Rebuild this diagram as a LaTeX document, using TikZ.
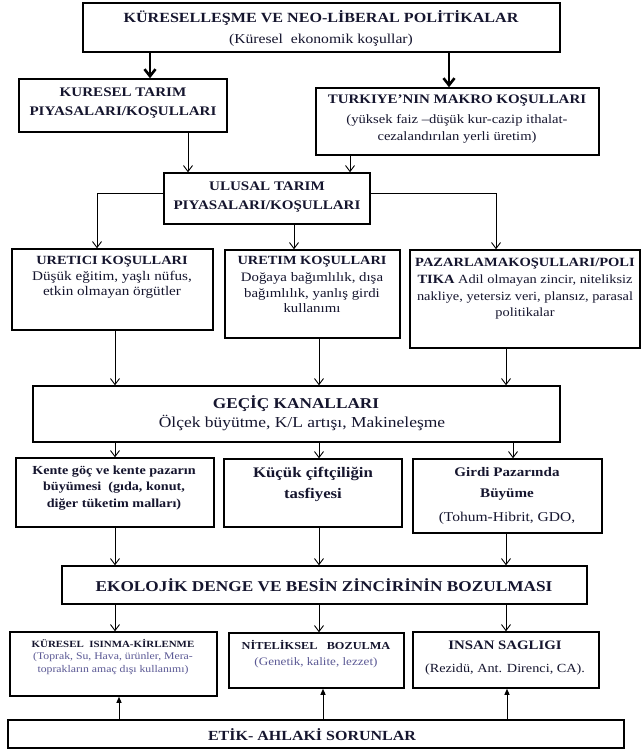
\documentclass[tikz,border=0pt]{standalone}
\usepackage{fontspec}
\setmainfont[FakeStretch=1.15]{Liberation Serif}
\usetikzlibrary{arrows.meta}
\definecolor{txt}{HTML}{15152E}
\definecolor{soft}{HTML}{5A5894}
\newcommand\mybox[5]{\node[box,minimum width={(#4)-(#2)},minimum height={(#5)-(#3)}] (#1) at ({((#2)+(#4))/2},{((#3)+(#5))/2}) {};}
\newcommand\fs[2]{\fontsize{#1}{#2}\selectfont}
\begin{document}
\begin{tikzpicture}[x=1pt,y=-1pt,
  box/.style={draw,line width=1.5pt,inner sep=0pt,fill=white},
  t/.style={align=center,inner sep=0pt,text=txt},
  arr/.style={-{Straight Barb[length=6pt,width=9pt]},line width=0.9pt},
  thk/.style={-{Straight Barb[length=7pt,width=11pt]},line width=2.6pt},
  uparr/.style={-{Triangle[length=6pt,width=5pt]},line width=1pt}]
\useasboundingbox (0,0) rectangle (644,750);
% boxes
\mybox{top}{83}{3}{560}{52}
\mybox{kur}{19}{79}{227}{132}
\mybox{tur}{316}{88}{599}{155}
\mybox{ulu}{164}{173}{370}{224}
\mybox{ureci}{12}{249}{213}{330}
\mybox{uretim}{225}{250}{400}{338}
\mybox{paz}{410}{250}{640}{348}
\mybox{gec}{33}{386}{560}{442}
\mybox{kente}{16}{458}{214}{527}
\mybox{kucuk}{224}{459}{402}{527}
\mybox{girdi}{413}{459}{602}{533}
\mybox{eko}{62}{566}{587}{604}
\mybox{kis}{10}{632}{217}{696}
\mybox{nit}{229}{633}{404}{688}
\mybox{ins}{413}{632}{599}{688}
\mybox{etik}{8}{720}{624}{748}
% texts
\node[t,font=\fs{14}{18}\bfseries] (topA) at (321,18) {KÜRESELLEŞME VE NEO-LİBERAL POLİTİKALAR};
\node[t,font=\fs{13.6}{17}] (topB) at (321,40) {(Küresel\ \ ekonomik koşullar)};
\node[t,font=\fs{13.1}{19}\bfseries] (kurT) at (123,103) {KURESEL TARIM\\PIYASALARI/KOŞULLARI};
\node[t,font=\fs{13}{18}\bfseries] (turT) at (457,101) {TURKIYE’NIN MAKRO KOŞULLARI};
\node[t,font=\fs{12.7}{17}\selectfont] (turB) at (457,129) {(yüksek faiz –düşük kur-cazip ithalat-\\cezalandırılan yerli üretim)};
\node[t,font=\fs{13.1}{19}\bfseries] (uluT) at (267,197) {ULUSAL TARIM\\PIYASALARI/KOŞULLARI};
\node[t,font=\fs{12.5}{18}\bfseries] (ureciT) at (112,262) {URETICI KOŞULLARI};
\node[t,font=\fs{13.2}{15}] (ureciB) at (112,285) {Düşük eğitim, yaşlı nüfus,\\etkin olmayan örgütler};
\node[t,font=\fs{12.5}{18}\bfseries] (uretimT) at (312,262) {URETIM KOŞULLARI};
\node[t,font=\fs{12.9}{15.5}] (uretimB) at (312,293) {Doğaya bağımlılık, dışa\\bağımlılık, yanlış girdi\\kullanımı};
\node[t,font=\fs{12.5}{16.7}] (pazB) at (525,289) {\fs{12.6}{16.7}\bfseries PAZARLAMAKOŞULLARI/POLI\\\fs{12.6}{16.7}\bfseries TIKA\fs{12.5}{16.7}\mdseries{} Adil olmayan zincir, niteliksiz\\nakliye, yetersiz veri, plansız, parasal\\politikalar};
\node[t,font=\fs{15}{20}\bfseries] (gecT) at (296,404) {GEÇİÇ KANALLARI};
\node[t,font=\fs{15.2}{20}] (gecB) at (302,423) {Ölçek büyütme, K/L artışı, Makineleşme};
\node[t,font=\fs{12.3}{16.5}\bfseries] (kenteT) at (114,488) {Kente göç ve kente pazarın\\büyümesi\ \ (gıda, konut,\\diğer tüketim malları)};
\node[t,font=\fs{14.6}{21}\bfseries] (kucukT) at (313,484) {Küçük çiftçiliğin\\tasfiyesi};
\node[t,font=\fs{13.1}{21}\bfseries] (girdiT) at (507,484) {Girdi Pazarında\\Büyüme};
\node[t,font=\fs{13.5}{16}] (girdiB) at (507,518) {(Tohum-Hibrit, GDO,};
\node[t,font=\fs{15}{20}\bfseries] (ekoT) at (324,585) {EKOLOJİK DENGE VE BESİN ZİNCİRİNİN BOZULMASI};
\node[t,font=\fs{9.5}{12}\bfseries] (kisT) at (113,643) {KÜRESEL\ \ ISINMA-KİRLENME};
\node[t,font=\fs{10.2}{13},text=soft] (kisB) at (113,664) {(Toprak, Su, Hava, ürünler, Mera-\\toprakların amaç dışı kullanımı)};
\node[t,font=\fs{10.7}{14}\bfseries] (nitT) at (316,645) {NİTELİKSEL\ \ \ BOZULMA};
\node[t,font=\fs{11.4}{13},text=soft] (nitB) at (316,663) {(Genetik, kalite, lezzet)};
\node[t,font=\fs{12.9}{16}\bfseries] (insT) at (505,645) {INSAN SAGLIGI};
\node[t,font=\fs{12.4}{16}] (insB) at (505,670) {(Rezidü, Ant. Direnci, CA).};
\node[t,font=\fs{13.9}{18}\bfseries] (etikT) at (312,735) {ETİK- AHLAKİ SORUNLAR};
% column coordinates
\coordinate (xa) at (150,0);
\coordinate (xb) at (449,0);
\coordinate (xc) at (188,0);
\coordinate (xd) at (350,0);
\coordinate (xe) at (97,0);
\coordinate (xf) at (496,0);
\coordinate (xg) at (294,0);
\coordinate (hy) at (0,193);
\coordinate (c1) at (115,0);
\coordinate (c2) at (319,0);
\coordinate (c3) at (506,0);
\coordinate (c4) at (513,0);
\coordinate (u1) at (119,0);
\coordinate (u2) at (323,0);
\coordinate (u3) at (507,0);
% connectors
\draw[thk] (top.south -| xa) -- (kur.north -| xa);
\draw[thk] (top.south -| xb) -- (tur.north -| xb);
\draw[arr] (kur.south -| xc) -- (ulu.north -| xc);
\draw[arr] (tur.south -| xd) -- (ulu.north -| xd);
\draw[arr] (ulu.west |- hy) -| (ureci.north -| xe);
\draw[arr] (ulu.east |- hy) -| (paz.north -| xf);
\draw[arr] (ulu.south -| xg) -- (uretim.north -| xg);
\draw[arr] (ureci.south -| c1) -- (gec.north -| c1);
\draw[arr] (uretim.south -| c2) -- (gec.north -| c2);
\draw[arr] (paz.south -| c3) -- (gec.north -| c3);
\draw[arr] (gec.south -| c1) -- (kente.north -| c1);
\draw[arr] (gec.south -| c2) -- (kucuk.north -| c2);
\draw[arr] (gec.south -| c4) -- (girdi.north -| c4);
\draw[arr] (kente.south -| c1) -- (eko.north -| c1);
\draw[arr] (kucuk.south -| c2) -- (eko.north -| c2);
\draw[arr] (girdi.south -| c3) -- (eko.north -| c3);
\draw[arr] (eko.south -| c1) -- (kis.north -| c1);
\draw[arr] (eko.south -| c2) -- (nit.north -| c2);
\draw[arr] (eko.south -| c3) -- (ins.north -| c3);
\draw[uparr] (etik.north -| u1) -- (kis.south -| u1);
\draw[uparr] (etik.north -| u2) -- (nit.south -| u2);
\draw[uparr] (etik.north -| u3) -- (ins.south -| u3);
\end{tikzpicture}
\end{document}
